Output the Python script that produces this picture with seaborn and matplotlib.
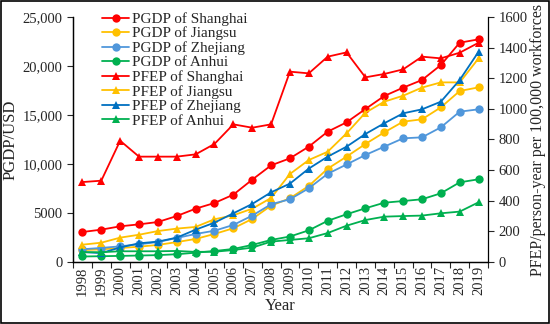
import matplotlib
matplotlib.use("Agg")
import matplotlib.pyplot as plt
import numpy as np
import seaborn as sns
from matplotlib.patches import Rectangle

years = list(range(1998, 2020))

pgdp_shanghai = [3060, 3300, 3640, 3840, 4080, 4690, 5440, 6020, 6870, 8400, 9860,
                 10580, 11770, 13300, 14250, 15610, 16940, 17790, 18570, 20100, 22380, 22720]
pgdp_jiangsu = [1210, 1290, 1420, 1560, 1740, 2030, 2350, 2860, 3440, 4390, 5750,
                6500, 7760, 9520, 10750, 12040, 13230, 14320, 14560, 15780, 17450, 17820]
pgdp_zhejiang = [1300, 1430, 1600, 1800, 2040, 2450, 2860, 3190, 3780, 4730, 5890,
                 6400, 7520, 9000, 9950, 10920, 11770, 12620, 12720, 13740, 15340, 15580]
pgdp_anhui = [560, 590, 620, 660, 700, 790, 950, 1120, 1330, 1740, 2250,
              2600, 3230, 4200, 4870, 5480, 6050, 6220, 6400, 7010, 8130, 8440]

pfep_shanghai = [522, 531, 792, 688, 688, 688, 703, 771, 899, 877, 899,
                 1243, 1232, 1341, 1369, 1206, 1228, 1258, 1341, 1330, 1367, 1432]
pfep_jiangsu = [113, 126, 159, 178, 202, 218, 229, 279, 305, 348, 418,
                575, 666, 720, 840, 975, 1047, 1086, 1139, 1173, 1173, 1330]
pfep_zhejiang = [65, 58, 95, 122, 133, 159, 211, 257, 318, 379, 455,
                 512, 610, 688, 753, 836, 906, 971, 997, 1047, 1189, 1373]
pfep_anhui = [64, 64, 70, 70, 70, 72, 66, 67, 78, 94, 133,
              144, 155, 189, 237, 274, 296, 300, 303, 318, 329, 390]

provinces = ["Shanghai", "Jiangsu", "Zhejiang", "Anhui"]
pgdp_colors = ["#FF0000", "#FFC000", "#5097DB", "#00B050"]
pfep_colors = ["#FF0000", "#FFC000", "#0070C0", "#00B050"]

sns.set_style("ticks")
plt.rcParams["font.family"] = ["Liberation Serif", "DejaVu Serif"]

fig = plt.figure(figsize=(5.5, 3.24), dpi=100)
ax = fig.add_axes([0.1327, 0.1914, 0.7546, 0.7561])
ax2 = ax.twinx()
x = np.arange(len(years))

for name, vals, col in zip(provinces, [pgdp_shanghai, pgdp_jiangsu, pgdp_zhejiang, pgdp_anhui], pgdp_colors):
    sns.lineplot(x=x, y=vals, ax=ax, color=col, marker="o", markersize=6,
                 markeredgecolor=col, markeredgewidth=0, linewidth=1.3,
                 label=f"PGDP of {name}", legend=False)
for name, vals, col in zip(provinces, [pfep_shanghai, pfep_jiangsu, pfep_zhejiang, pfep_anhui], pfep_colors):
    sns.lineplot(x=x, y=vals, ax=ax2, color=col, marker="^", markersize=6,
                 markeredgecolor=col, markeredgewidth=0, linewidth=1.3,
                 label=f"PFEP of {name}", legend=False)

ax.set_xlim(-0.5, len(years) - 0.5)
ax.set_ylim(0, 25000)
ax2.set_ylim(0, 1600)
ax.set_xticks(x)
ax.set_xticklabels([str(y) for y in years], rotation=90, fontsize=10.5)
ax.set_xticks(np.arange(-0.5, len(years)), minor=True)
ax.tick_params(axis="x", which="major", length=0, pad=3)
ax.tick_params(axis="x", which="minor", length=4, width=0.8, direction="out")
ax.set_yticks([0, 5000, 10000, 15000, 20000, 25000])
ax.set_yticklabels(["0", "5000", "10,000", "15,000", "20,000", "25,000"], fontsize=10.5)
ax2.set_yticks(range(0, 1601, 200))
ax2.set_yticklabels([str(v) for v in range(0, 1601, 200)], fontsize=10.5)
ax.tick_params(axis="y", length=4, width=0.8)
ax2.tick_params(axis="y", length=4, width=0.8)

for a in (ax, ax2):
    a.spines["top"].set_visible(False)
    for s in ("left", "right", "bottom"):
        a.spines[s].set_linewidth(0.9)
        a.spines[s].set_color("black")
ax.spines["right"].set_visible(False)

ax.set_xlabel("Year", fontsize=12, labelpad=2)
ax.set_ylabel("PGDP/USD", fontsize=12, labelpad=3)
ax2.set_ylabel("PFEP/person-year per 100,000 workforces", fontsize=11.5, labelpad=2)

h1, l1 = ax.get_legend_handles_labels()
h2, l2 = ax2.get_legend_handles_labels()
ax2.legend(h1 + h2, l1 + l2, loc="upper left", bbox_to_anchor=(0.055, 1.045),
           frameon=False, fontsize=11, labelspacing=0.05, handlelength=1.8,
           handletextpad=0.15, borderaxespad=0)

fig.patches.append(Rectangle((0.002, 0.003), 0.996, 0.994, transform=fig.transFigure,
                             fill=False, edgecolor="black", linewidth=1.2))

fig.savefig("out.png", dpi=100)
plt.close(fig)
